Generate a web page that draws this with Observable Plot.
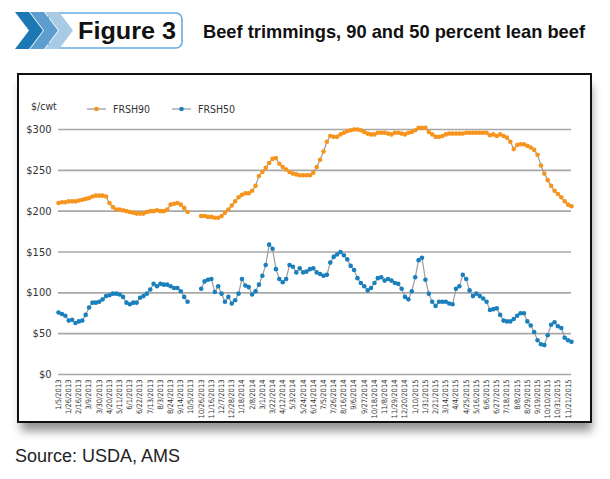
<!DOCTYPE html>
<html>
<head>
<meta charset="utf-8">
<script src="https://cdn.jsdelivr.net/npm/d3@7"></script>
<script src="https://cdn.jsdelivr.net/npm/@observablehq/plot@0.6"></script>
<style>
  html, body { margin: 0; padding: 0; background: #fff; }
  body { width: 610px; height: 479px; position: relative; overflow: hidden; font-family: "Liberation Sans", Arial, sans-serif; }
  #banner { position: absolute; left: 0; top: 0; }
  #frame { position: absolute; left: 17px; top: 73px; width: 571px; height: 346px; border: 2px solid #111; background: #fff;
           box-shadow: 2px 10px 9px -2px rgba(0,0,0,0.42); }
  #legend { position: absolute; left: 0; top: 0; }
  #chart { position: absolute; left: 0; top: 40px; }
  #source { position: absolute; left: 15px; top: 446px; font: 18px "Liberation Sans", Arial, sans-serif; color: #222; }
  .narrow { font-family: "DejaVu Sans Condensed", "Liberation Sans", sans-serif; font-stretch: condensed; }
</style>
</head>
<body>
<svg id="banner" width="610" height="60">
  <rect x="48" y="13" width="134" height="35" rx="6" ry="6" fill="#fff" stroke="#6aaade" stroke-width="1.6"/>
  <polygon points="15,12 29,12 43,30.5 29,49 15,49 29,30.5" fill="#1b78b2"/>
  <polygon points="30,12 44,12 58,30.5 44,49 30,49 44,30.5" fill="#5c9fcf"/>
  <polygon points="45,12 59,12 73,30.5 59,49 45,49 59,30.5" fill="#a9cae5"/>
  <text x="78" y="39" font-family="Liberation Sans, Arial, sans-serif" font-weight="bold" font-size="23" fill="#111"
        textLength="98" lengthAdjust="spacingAndGlyphs">Figure 3</text>
  <text x="203" y="38" font-family="Liberation Sans, Arial, sans-serif" font-weight="bold" font-size="19" fill="#111"
        textLength="382" lengthAdjust="spacingAndGlyphs">Beef trimmings, 90 and 50 percent lean beef</text>
</svg>

<div id="frame">
  <svg id="legend" width="260" height="40" class="narrow" font-size="10.5" fill="#333">
    <text x="12" y="38" dy="-0.25em">$/cwt</text>
  </svg>
  <div id="chart"></div>
</div>
<div id="source">Source: USDA, AMS</div>

<script>
// Weekly boxed-beef trimming prices, $/cwt, starting the week of 1/5/2013.
const firstWeek = "1/5/2013";
const weekCount = 152;

// FRSH90: fresh 90% lean trimmings (null = no report that week)
const frsh90 = [
  210, 211, 211, 212, 212, 212, 213, 214, 215, 216,
  218, 219, 219, 219, 218, 210, 205, 202, 202, 201,
  200, 199, 198, 197, 197, 197, 199, 200, 200, 201,
  200, 200, 202, 208, 209, 210, 208, 204, 199, null,
  null, null, 194, 194, 193, 193, 192, 192, 194, 198,
  202, 207, 212, 217, 220, 222, 222, 225, 231, 243,
  248, 253, 259, 264, 265, 258, 254, 251, 248, 246,
  245, 244, 244, 244, 244, 247, 254, 263, 273, 285,
  292, 291, 291, 294, 296, 298, 299, 300, 300, 299,
  297, 295, 294, 294, 296, 296, 296, 295, 294, 296,
  296, 295, 294, 296, 297, 299, 302, 302, 302, 297,
  294, 291, 291, 292, 294, 295, 295, 295, 295, 295,
  296, 296, 296, 296, 296, 296, 296, 293, 294, 292,
  294, 292, 290, 285, 276, 281, 282, 282, 280, 278,
  275, 269, 256, 246, 238, 231, 225, 221, 217, 212,
  208, 206
];

// FRSH50: fresh 50% lean trimmings
const frsh50 = [
   76,  74,  72,  66,  67,  63,  65,  66,  73,  82,
   88,  88,  89,  92,  96,  97,  99,  99,  98,  95,
   88,  86,  88,  88,  94,  96,  99, 104, 111, 108,
  111, 110, 110, 108, 106, 106, 102,  95,  89, null,
  null, null, 105, 114, 116, 117, 101, 108,  99,  89,
   95,  87,  91,  99, 117, 109, 107,  98, 102, 110,
  121, 134, 159, 154, 129, 117, 113, 117, 134, 132,
  125, 130, 125, 126, 129, 130, 125, 123, 121, 122,
  137, 144, 147, 150, 146, 141, 133, 128, 118, 112,
  108, 103, 106, 112, 118, 119, 115, 117, 115, 112,
  111, 105,  95,  92, 102, 119, 140, 143, 116,  99,
   89,  84,  89,  89,  89,  87,  86, 105, 108, 122,
  117, 103,  96,  99,  96,  93,  89,  79,  80,  81,
   73,  66,  65,  65,  68,  72,  75,  75,  65,  60,
   52,  42,  37,  36,  48,  61,  64,  59,  57,  45,
   42,  40
];

const xTickLabels = [
  "1/5/2013", "1/26/2013", "2/16/2013", "3/9/2013", "3/30/2013", "4/20/2013", "5/11/2013",
  "6/1/2013", "6/22/2013", "7/13/2013", "8/3/2013", "8/24/2013", "9/14/2013", "10/5/2013",
  "10/26/2013", "11/16/2013", "12/7/2013", "12/28/2013", "1/18/2014", "2/8/2014", "3/1/2014",
  "3/22/2014", "4/12/2014", "5/3/2014", "5/24/2014", "6/14/2014", "7/5/2014", "7/26/2014",
  "8/16/2014", "9/6/2014", "9/27/2014", "10/18/2014", "11/8/2014", "11/29/2014", "12/20/2014",
  "1/10/2015", "1/31/2015", "2/21/2015", "3/14/2015", "4/4/2015", "4/25/2015", "5/16/2015",
  "6/6/2015", "6/27/2015", "7/18/2015", "8/8/2015", "8/29/2015", "9/19/2015", "10/10/2015",
  "10/31/2015", "11/21/2015"
];

const yTicks = [0, 50, 100, 150, 200, 250, 300];

const seriesNames = ["FRSH90", "FRSH50"];
const seriesColors = ["#f7941d", "#1a80bd"];
const lineColor = "#9c9c9c";

const parseDate = d3.utcParse("%m/%d/%Y");
const fmtDate = d3.utcFormat("%-m/%-d/%Y");
const week0 = parseDate(firstWeek);
const weeks = d3.range(weekCount).map(i => d3.utcDay.offset(week0, 7 * i));

const rows90 = weeks.map((date, i) => ({date, value: frsh90[i]}));
const rows50 = weeks.map((date, i) => ({date, value: frsh50[i]}));
const has = d => d.value != null;

const narrowFont = '"DejaVu Sans Condensed", "Liberation Sans", sans-serif';

const chart = Plot.plot({
  width: 571,
  height: 305,
  marginLeft: 39,
  marginRight: 19,
  marginTop: 14,
  marginBottom: 46,
  style: {fontFamily: narrowFont, fontSize: "11px", color: "#333", background: "transparent", fontStretch: "condensed"},
  x: {type: "utc", domain: [weeks[0], weeks[weeks.length - 1]]},
  y: {domain: [0, 300]},
  marks: [
    Plot.ruleY(yTicks, {stroke: "#a8a8a8", strokeWidth: 1.6}),
    Plot.axisY({ticks: yTicks, tickFormat: d => "$" + d, tickSize: 0, tickPadding: 7, label: null, fontSize: 11}),
    Plot.axisX({ticks: xTickLabels.map(parseDate), tickFormat: fmtDate, tickRotate: -90, tickSize: 0,
                tickPadding: 5, label: null, fontSize: 7.5}),
    Plot.line(rows90, {x: "date", y: "value", stroke: lineColor, strokeWidth: 1.2}),
    Plot.line(rows50, {x: "date", y: "value", stroke: lineColor, strokeWidth: 1.2}),
    Plot.dot(rows90.filter(has), {x: "date", y: "value", r: 2.3, fill: seriesColors[0], stroke: "none"}),
    Plot.dot(rows50.filter(has), {x: "date", y: "value", r: 2.3, fill: seriesColors[1], stroke: "none"})
  ]
});
document.getElementById("chart").appendChild(chart);

// legend entries: line segment with a dot, then the series name
const legend = d3.select("#legend");
const legendX = [68, 153];
seriesNames.forEach((name, k) => {
  const g = legend.append("g").attr("transform", `translate(${legendX[k]},34)`);
  g.append("line").attr("x1", 0).attr("x2", 19).attr("y1", 0).attr("y2", 0)
    .attr("stroke", lineColor).attr("stroke-width", 1.3);
  g.append("circle").attr("cx", 9.5).attr("cy", 0).attr("r", 2.3).attr("fill", seriesColors[k]);
  g.append("text").attr("x", 26).attr("y", 0).attr("dy", "0.35em").text(name);
});
</script>
</body>
</html>
